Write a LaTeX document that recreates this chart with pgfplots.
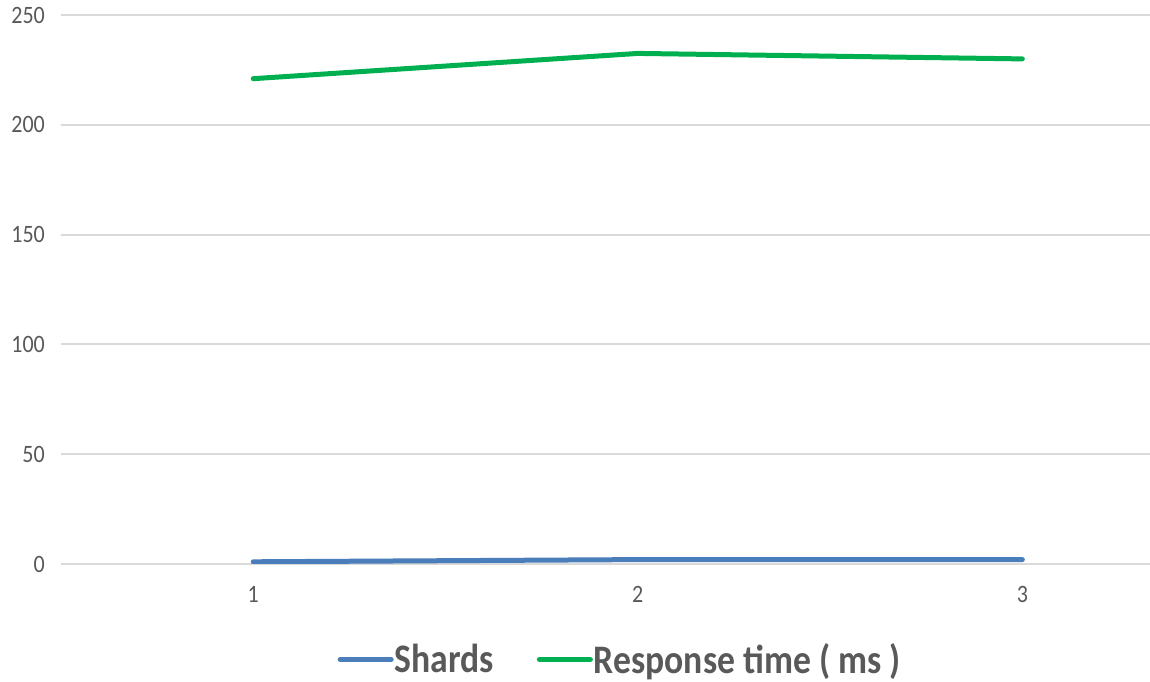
\documentclass[border=0pt]{standalone}
\usepackage{pgfplots}
\pgfplotsset{compat=1.18}
\usepackage{fontspec}
\setmainfont{Carlito}[FakeStretch=0.88]
\definecolor{gridc}{HTML}{D9D9D9}
\definecolor{txt}{HTML}{595959}
\definecolor{blueS}{HTML}{4A7EBB}
\definecolor{greenR}{HTML}{00B050}
\begin{document}
\begin{tikzpicture}[x=1bp,y=1bp]
\path[use as bounding box] (0,0) rectangle (1150,682);
\begin{axis}[
  at={(61bp,118bp)}, anchor=south west,
  scale only axis, width=1089bp, height=549bp,
  xmin=0.5, xmax=3.332, ymin=0, ymax=250,
  xtick={1,2,3}, ytick={0,50,...,250},
  ymajorgrids, major grid style={gridc, line width=2bp},
  axis line style={draw=none}, tick style={draw=none},
  /pgf/number format/assume math mode=true,
  tick label style={font=\fontsize{25bp}{30bp}\selectfont, text=txt},
  yticklabel style={anchor=east, inner sep=0pt, xshift=-16bp},
  xticklabel style={anchor=north, inner sep=0pt, yshift=-22bp},
  legend style={at={(0.513,-0.174)}, anchor=center, draw=none, fill=none,
    font=\fontsize{40.5bp}{48bp}\selectfont\bfseries, text=txt,
    legend columns=2, cells={anchor=west}, nodes={inner sep=1bp},
    /tikz/every even column/.append style={column sep=42bp}},
  legend image code/.code={\draw[#1, line width=5bp, line cap=round] (0bp,0bp) -- (51bp,0bp);},
]
\addplot[blueS, line width=5bp, line cap=round] coordinates {(1,1) (2,2) (3,2)};
\addlegendentry{Shards}
\addplot[greenR, line width=5bp, line cap=round, line join=round] coordinates {(1,221) (2,232.5) (3,230)};
\addlegendentry{Response time ( ms )}
\end{axis}
\end{tikzpicture}
\end{document}
